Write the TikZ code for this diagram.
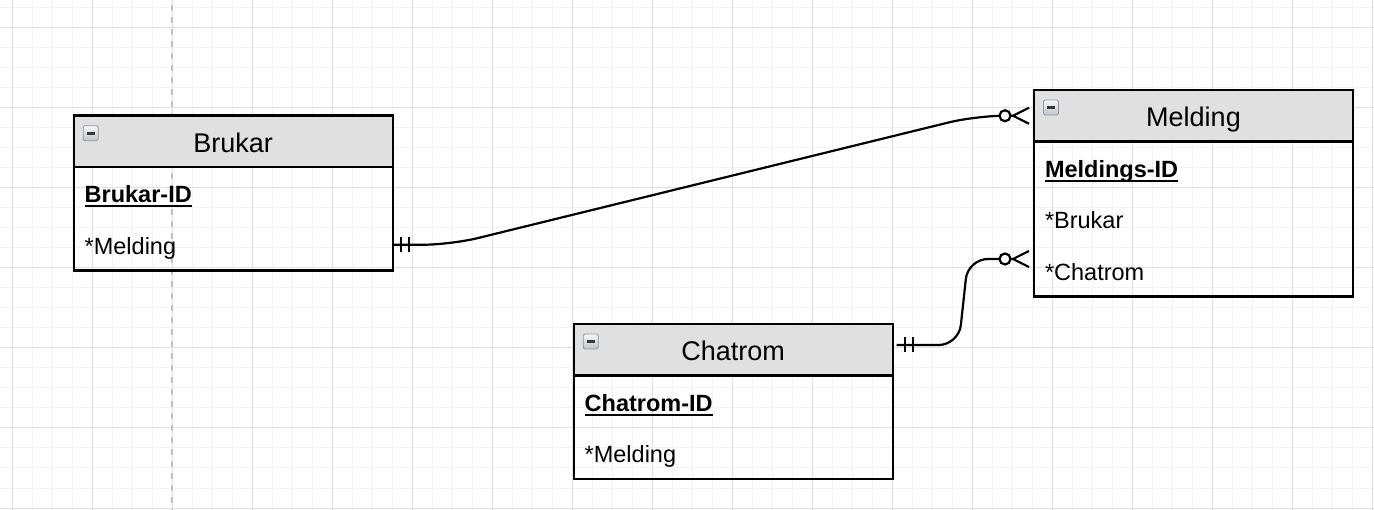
\documentclass[tikz,border=0pt]{standalone}
\usepackage{fontspec}
\setmainfont{Liberation Sans}
\definecolor{hdr}{HTML}{E0E0E0}
\definecolor{gmin}{HTML}{F3F3F3}
\definecolor{gmaj}{HTML}{E0E0E0}
\definecolor{dashc}{HTML}{C2C2C2}
\definecolor{icontop}{HTML}{F7F8FA}
\definecolor{iconbot}{HTML}{BFC5CC}
\definecolor{iconedge}{HTML}{8F959C}
\newcommand\ulx[1]{\setbox0\hbox{#1}\rlap{\rule[-4.3pt]{\wd0}{2pt}}\box0}
\begin{document}
\begin{tikzpicture}[x=1pt,y=-1pt,
  ehead/.style={draw, line width=2.4pt, fill=hdr, minimum width=319pt, minimum height=51.5pt,
    inner sep=0pt, outer sep=0pt, font=\fontsize{27}{30}\selectfont,
    text height=22.3pt, text depth=0pt, anchor=north west},
  erow/.style={minimum width=319pt, minimum height=51.7pt, inner xsep=11pt, inner ysep=0pt,
    outer sep=0pt, text width=297pt, align=left, font=\fontsize{23.5}{26}\selectfont,
    text height=19.8pt, text depth=0pt, anchor=north west},
  eframe/.style={draw, line width=2.4pt},
  rel/.style={draw, line width=2.2pt, black},
  relmark/.style={line width=2.2pt, black},
  zerocirc/.style={circle, draw, line width=2.2pt, fill=white, minimum size=11pt, inner sep=0pt},
  eicon/.pic={
    \draw[draw=iconedge, line width=0.8pt, top color=icontop, bottom color=iconbot,
      rounded corners=1.5pt] (0,0) rectangle (15,15);
    \fill[black!78] (3.5,6) rectangle (11.5,9);
  }]
\useasboundingbox (0,0) rectangle (1374,510);
\fill[white] (0,0) rectangle (1374,510);
% grid
\foreach \x in {12,32,...,1372} \draw[gmin, line width=1pt] (\x,0) -- (\x,510);
\foreach \y in {8,28,...,508} \draw[gmin, line width=1pt] (0,\y) -- (1374,\y);
\foreach \x in {12,92,...,1372} \draw[gmaj, line width=1pt] (\x,0) -- (\x,510);
\foreach \y in {28,108,...,508} \draw[gmaj, line width=1pt] (0,\y) -- (1374,\y);
\draw[dashc, line width=2pt, dash pattern=on 6pt off 6pt] (172,5) -- (172,510);

% Brukar
\node[ehead] (bh) at (73.7,115.7) {Brukar};
\node[erow] (b1) at (bh.south west) {\bfseries\ulx{Brukar-ID}};
\node[erow] (b2) at (b1.south west) {*Melding};
\draw[eframe] (bh.north west) rectangle (b2.south east);
\pic at ([xshift=9.5pt,yshift=-10pt]bh.north west) {eicon};

% Melding
\node[ehead] (mh) at (1034,90) {Melding};
\node[erow] (m1) at (mh.south west) {\bfseries\ulx{Meldings-ID}};
\node[erow] (m2) at (m1.south west) {*Brukar};
\node[erow] (m3) at (m2.south west) {*Chatrom};
\draw[eframe] (mh.north west) rectangle (m3.south east);
\pic at ([xshift=9.5pt,yshift=-10pt]mh.north west) {eicon};

% Chatrom
\node[ehead] (ch) at (573.7,324) {Chatrom};
\node[erow] (c1) at (ch.south west) {\bfseries\ulx{Chatrom-ID}};
\node[erow] (c2) at (c1.south west) {*Melding};
\draw[eframe] (ch.north west) rectangle (c2.south east);
\pic at ([xshift=9.5pt,yshift=-10pt]ch.north west) {eicon};

% connector Brukar -> Melding
\coordinate (e1) at (mh.west);
\coordinate (s1) at (b2.east);
\draw[rel] (s1) [rounded corners=28pt] -- ([xshift=58pt]s1) -- ([xshift=-58pt]e1) -- ([xshift=-21pt]e1);
\draw[relmark] ([xshift=8pt,yshift=7.5pt]s1) -- ([xshift=8pt,yshift=-7.5pt]s1);
\draw[relmark] ([xshift=16.5pt,yshift=7.5pt]s1) -- ([xshift=16.5pt,yshift=-7.5pt]s1);
\node[zerocirc] (z1) at ([xshift=-29pt]e1) {};
\draw[relmark] ([xshift=-5pt,yshift=8pt]e1) -- ([xshift=-21pt]e1) -- ([xshift=-5pt,yshift=-8pt]e1);

% connector Chatrom -> Melding
\coordinate (e2) at ([yshift=11.75pt]m3.west);
\coordinate (s2) at ([xshift=4pt,yshift=4.75pt]ch.east);
\coordinate (k1) at ([xshift=62pt]s2);
\coordinate (k2) at ([xshift=-66pt]e2);
\draw[rel] (s2) [rounded corners=20pt] -- (k1) -- (k2) -- ([xshift=-21pt]e2);
\draw[relmark] ([xshift=8pt,yshift=7.5pt]s2) -- ([xshift=8pt,yshift=-7.5pt]s2);
\draw[relmark] ([xshift=16pt,yshift=7.5pt]s2) -- ([xshift=16pt,yshift=-7.5pt]s2);
\node[zerocirc] (z2) at ([xshift=-29pt]e2) {};
\draw[relmark] ([xshift=-5pt,yshift=8pt]e2) -- ([xshift=-21pt]e2) -- ([xshift=-5pt,yshift=-8pt]e2);
\end{tikzpicture}
\end{document}
